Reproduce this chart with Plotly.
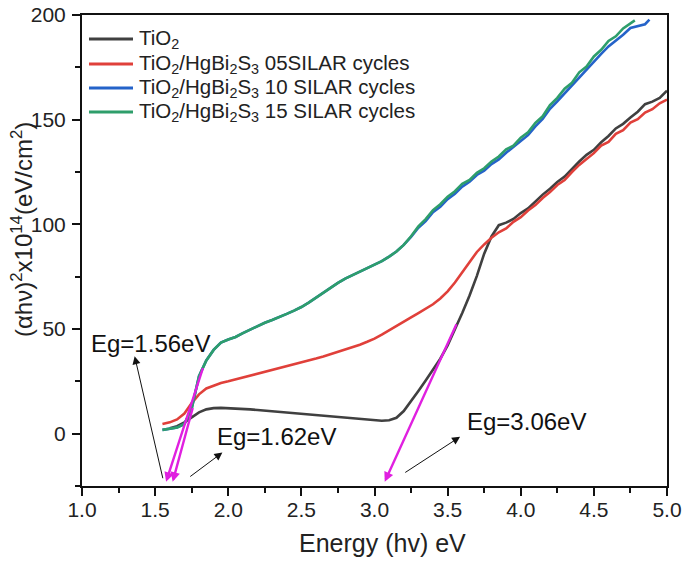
"""Tauc plot: TiO2 and TiO2/HgBi2S3 films (SILAR cycles)"""

import plotly.graph_objects as go

# TiO2
ENERGY_TIO2 = [1.60, 1.65, 1.70, 1.75, 1.80, 1.85, 1.90, 1.95, 2.00, 2.05, 2.10, 2.15, 2.20, 2.25,
               2.30, 2.35, 2.40, 2.45, 2.50, 2.55, 2.60, 2.65, 2.70, 2.75, 2.80, 2.85, 2.90, 2.95,
               3.00, 3.05, 3.10, 3.15, 3.20, 3.25, 3.30, 3.35, 3.40, 3.45, 3.50, 3.55, 3.60, 3.65,
               3.70, 3.75, 3.80, 3.85, 3.90, 3.95, 4.00, 4.05, 4.10, 4.15, 4.20, 4.25, 4.30, 4.35,
               4.40, 4.45, 4.50, 4.55, 4.60, 4.65, 4.70, 4.75, 4.80, 4.85, 4.90, 4.95, 5.00]
VALUE_TIO2 = [2.6, 3.6, 5.4, 7.8, 10.2, 11.6, 12.2, 12.3, 12.2, 12.1, 11.9, 11.6, 11.3, 11.0,
              10.7, 10.4, 10.1, 9.8, 9.5, 9.2, 8.9, 8.7, 8.4, 8.1, 7.8, 7.5, 7.2, 6.9,
              6.5, 6.2, 6.4, 7.6, 10.8, 15.4, 20.4, 25.4, 30.4, 35.8, 42.2, 49.6, 57.6, 66.0,
              75.4, 86.0, 94.2, 99.6, 100.8, 102.6, 105.4, 107.6, 111.0, 114.2, 117.0, 120.2, 122.8, 126.6,
              130.0, 133.2, 135.6, 139.2, 142.2, 145.8, 148.0, 151.0, 153.8, 157.4, 158.6, 160.4, 163.8]

# TiO2/HgBi2S3 05 SILAR cycles
ENERGY_05 = [1.55] + ENERGY_TIO2
VALUE_05 = [4.6, 5.4, 6.8, 9.6, 14.6, 18.8, 21.6, 23.0, 24.2, 25.0, 25.9, 26.8, 27.8, 28.6,
            29.5, 30.3, 31.2, 32.0, 33.0, 34.0, 35.0, 35.9, 36.9, 38.0, 39.0, 40.1, 41.2, 42.5,
            43.9, 45.4, 47.3, 49.3, 51.2, 53.4, 55.6, 57.6, 59.6, 61.8, 64.6, 68.0, 72.2, 77.0,
            82.0, 86.8, 90.4, 93.6, 96.2, 98.0, 101.2, 103.4, 106.6, 109.2, 112.6, 115.4, 118.8, 121.2,
            125.0, 128.4, 131.2, 134.0, 137.6, 139.4, 143.2, 145.0, 148.6, 150.2, 153.4, 155.0, 157.8, 159.6]

# TiO2/HgBi2S3 10 SILAR cycles
ENERGY_10 = [1.55] + ENERGY_TIO2[:64] + [4.85, 4.88]
VALUE_10 = [1.8, 2.2, 2.9, 4.6, 12.0, 27.5, 35.0, 40.0, 43.5, 45.0, 46.2, 48.0, 49.8, 51.4,
            53.0, 54.3, 55.6, 57.2, 58.8, 60.5, 62.6, 65.0, 67.6, 70.0, 72.0, 74.1, 75.8, 77.4,
            79.0, 80.6, 82.4, 84.6, 87.0, 90.2, 94.0, 98.4, 101.6, 105.8, 108.4, 112.0, 114.6, 118.0,
            120.4, 123.6, 125.6, 128.8, 131.0, 134.2, 136.8, 139.8, 142.6, 146.8, 150.4, 155.2, 158.8, 162.6,
            166.2, 170.4, 173.8, 178.0, 181.4, 185.0, 187.6, 190.6, 193.8, 195.6, 197.8, 200.0]

# TiO2/HgBi2S3 15 SILAR cycles
ENERGY_15 = [1.55] + ENERGY_TIO2[:63] + [4.78]
VALUE_15 = [1.8, 2.2, 2.9, 4.6, 12.0, 27.5, 35.0, 40.0, 43.5, 45.0, 46.2, 48.0, 49.8, 51.4,
            53.0, 54.3, 55.6, 57.2, 58.8, 60.5, 62.6, 65.0, 67.6, 70.0, 72.0, 74.1, 75.8, 77.4,
            79.0, 80.6, 82.4, 84.6, 87.0, 90.2, 94.3, 99.0, 102.5, 106.8, 109.6, 113.2, 115.8, 119.4,
            121.2, 124.6, 126.8, 130.0, 132.4, 135.8, 137.6, 141.4, 144.0, 148.5, 151.6, 157.0, 160.4, 164.8,
            167.6, 172.6, 175.4, 180.2, 183.4, 187.6, 189.8, 193.6, 197.4, 200.0]

SERIES_NAMES = [
    "TiO<sub>2</sub>",
    "TiO<sub>2</sub>/HgBi<sub>2</sub>S<sub>3</sub> 05SILAR cycles",
    "TiO<sub>2</sub>/HgBi<sub>2</sub>S<sub>3</sub> 10 SILAR cycles",
    "TiO<sub>2</sub>/HgBi<sub>2</sub>S<sub>3</sub> 15 SILAR cycles",
]
SERIES_COLORS = ["#404040", "#e0403a", "#2563c9", "#2e9e6b"]

# tangent lines (x-intercept end first, then point on the curve)
TANGENT_X = [(1.575, 1.83), (1.62, 1.76), (3.07, 3.565)]
TANGENT_Y = [(-23, 32), (-23, 13), (-23, 53)]

# band gap labels and their pointer arrows (tail -> head)
EG_LABELS = ["Eg=1.56eV", "Eg=1.62eV", "Eg=3.06eV"]
EG_LABEL_X = [1.05, 1.91, 3.62]
EG_LABEL_Y = [43, -1.5, 5.6]
POINTER_X = [(1.555, 1.36), (1.73, 1.96), (3.20, 3.585)]
POINTER_Y = [(-22, 37), (-21, -9), (-19, -1.5)]

FONT = "Liberation Sans, Arial, sans-serif"

# pixel geometry of the plot area (685 x 562 canvas)
PLOT_L, PLOT_R, PLOT_T, PLOT_B = 82, 667, 15, 486


def px_x(px):
    return (px - PLOT_L) / (PLOT_R - PLOT_L)


def px_y(py):
    return (PLOT_B - py) / (PLOT_B - PLOT_T)


fig = go.Figure()

series = [(ENERGY_TIO2, VALUE_TIO2), (ENERGY_05, VALUE_05), (ENERGY_10, VALUE_10), (ENERGY_15, VALUE_15)]
for (xs, ys), name, color in zip(series, SERIES_NAMES, SERIES_COLORS):
    fig.add_trace(
        go.Scatter(x=xs, y=ys, mode="lines", name=name, line={"color": color, "width": 2.6}, showlegend=False)
    )

# magenta tangents
for (x0, x1), (y0, y1) in zip(TANGENT_X, TANGENT_Y):
    fig.add_annotation(
        x=x0, y=y0, ax=x1, ay=y1, xref="x", yref="y", axref="x", ayref="y",
        text="", showarrow=True, arrowhead=2, arrowsize=0.8, arrowwidth=2.4, arrowcolor="#e020e0",
    )

# black pointers
for (x0, x1), (y0, y1) in zip(POINTER_X, POINTER_Y):
    fig.add_annotation(
        x=x1, y=y1, ax=x0, ay=y0, xref="x", yref="y", axref="x", ayref="y",
        text="", showarrow=True, arrowhead=2, arrowsize=1.6, arrowwidth=1, arrowcolor="#111111",
    )

for label, lx, ly in zip(EG_LABELS, EG_LABEL_X, EG_LABEL_Y):
    fig.add_annotation(
        x=lx, y=ly, xref="x", yref="y", text=label, showarrow=False,
        xanchor="left", yanchor="middle", font={"family": FONT, "size": 24, "color": "#111111"},
    )

# legend drawn by hand so the row spacing matches the original
legend_rows = [39, 64, 88, 112]
for name, color, row in zip(SERIES_NAMES, SERIES_COLORS, legend_rows):
    fig.add_shape(
        type="line", xref="paper", yref="paper",
        x0=px_x(89), x1=px_x(133), y0=px_y(row), y1=px_y(row),
        line={"color": color, "width": 3},
    )
    fig.add_annotation(
        x=px_x(137), y=px_y(row), xref="paper", yref="paper", text=name, showarrow=False,
        xanchor="left", yanchor="middle", font={"family": FONT, "size": 20.5, "color": "#222222"},
    )

# axis titles
fig.add_annotation(
    x=px_x(382), y=px_y(543), xref="paper", yref="paper", text="Energy (hv) eV", showarrow=False,
    xanchor="center", yanchor="middle", font={"family": FONT, "size": 25, "color": "#222222"},
)
fig.add_annotation(
    x=px_x(22), y=px_y(230), xref="paper", yref="paper", textangle=-90,
    text="(\u03b1h\u03bd)<sup>2</sup>x10<sup>14</sup>(eV/cm<sup>2</sup>)", showarrow=False,
    xanchor="center", yanchor="middle", font={"family": FONT, "size": 24, "color": "#222222"},
)

axis_common = {
    "showline": True,
    "linewidth": 2,
    "linecolor": "#111111",
    "mirror": True,
    "ticks": "outside",
    "ticklen": 8,
    "tickwidth": 2,
    "tickcolor": "#111111",
    "showgrid": False,
    "zeroline": False,
    "automargin": False,
    "tickfont": {"family": FONT, "size": 21, "color": "#222222"},
}

fig.update_xaxes(
    range=[1, 5],
    dtick=0.5,
    tickformat=".1f",
    minor={"dtick": 0.25, "ticks": "outside", "ticklen": 5, "tickwidth": 2, "tickcolor": "#111111"},
    ticklabelstandoff=-4,
    **axis_common,
)
fig.update_yaxes(
    range=[-25, 200],
    tickvals=[0, 50, 100, 150, 200],
    minor={"dtick": 25, "ticks": "outside", "ticklen": 5, "tickwidth": 2, "tickcolor": "#111111"},
    ticklabelstandoff=2,
    **axis_common,
)

fig.update_layout(
    width=685,
    height=562,
    margin={"l": PLOT_L, "r": 685 - PLOT_R, "t": PLOT_T, "b": 562 - PLOT_B},
    paper_bgcolor="white",
    plot_bgcolor="white",
    showlegend=False,
)

# the page body has a default 8px margin; drop it so the figure sits at the window corner
fig.write_html(
    "out.html",
    config={"displayModeBar": False},
    post_script="document.body.style.margin = '0';",
)
